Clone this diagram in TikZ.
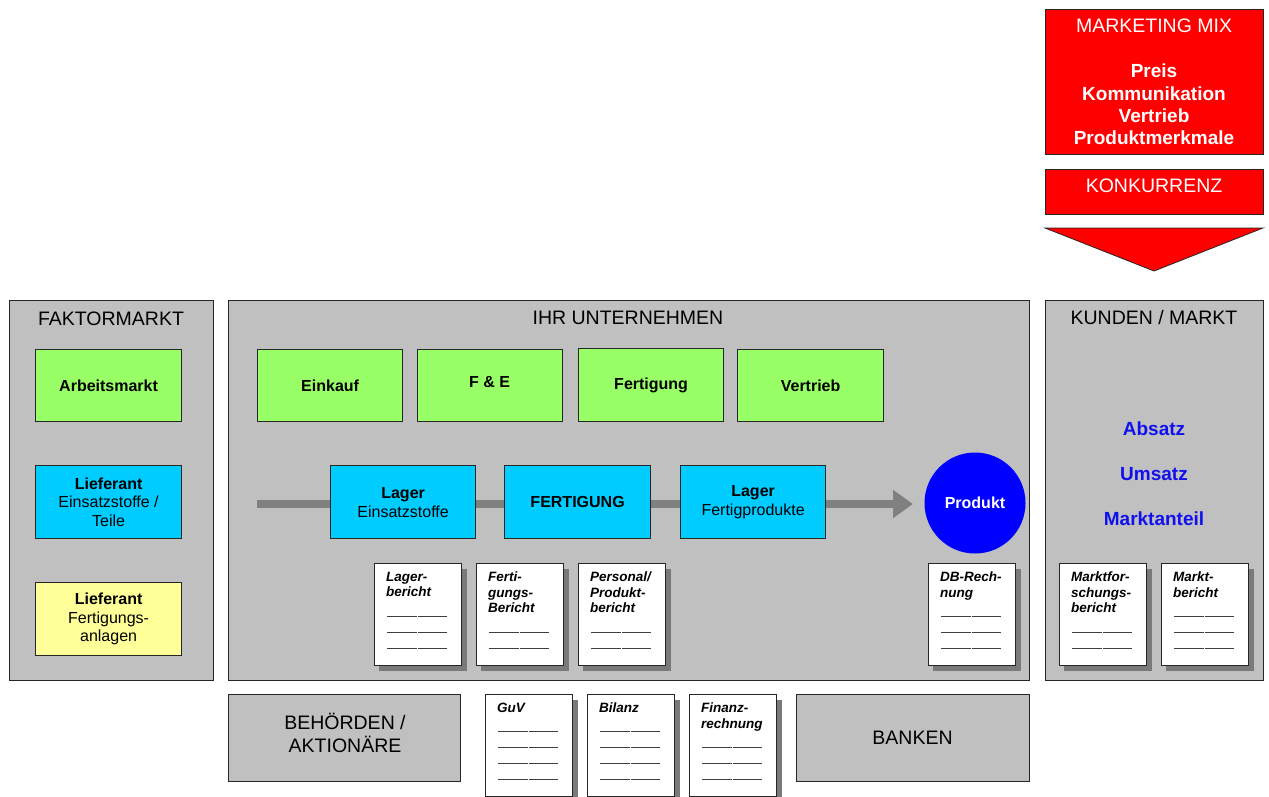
\documentclass[tikz,border=0pt]{standalone}
\usepackage{fontspec}
\setmainfont{Liberation Sans}
\usetikzlibrary{arrows.meta}
\definecolor{boxgray}{HTML}{C0C0C0}
\definecolor{linecol}{HTML}{262626}
\definecolor{gfill}{HTML}{99FF66}
\definecolor{cfill}{HTML}{00CCFF}
\definecolor{yfill}{HTML}{FFFF99}
\definecolor{rfill}{HTML}{FF0000}
\definecolor{bfill}{HTML}{0000FF}
\definecolor{kpiblue}{HTML}{1010F0}
\definecolor{flowgray}{HTML}{808080}
\definecolor{shadowgray}{HTML}{7A7A7A}
\newcommand\fsz[2]{\fontsize{#1}{#2}\selectfont}
\tikzset{
  basebox/.style={draw=linecol, line width=1.2pt, inner sep=0pt, align=center},
  areabox/.style={basebox, fill=boxgray},
  gbox/.style={basebox, fill=gfill, font=\fsz{16}{19}\bfseries},
  cbox/.style={basebox, fill=cfill, font=\fsz{16}{19}},
  ybox/.style={basebox, fill=yfill, font=\fsz{16}{19}},
  rbox/.style={basebox, fill=rfill, text=white},
  titletext/.style={font=\fsz{19.5}{23}, inner sep=0pt},
  kpitext/.style={font=\fsz{19}{23}\bfseries, text=kpiblue, inner sep=0pt},
  docrect/.style={draw=linecol, line width=1.1pt, fill=white, inner sep=0pt, anchor=north west,
    minimum width=87, minimum height=102},
  doctext/.style={font=\fsz{13.5}{15.5}\bfseries\itshape, inner sep=0pt, align=left, anchor=north west},
  docline/.style={draw=black!75, line width=1pt},
  flowarrow/.style={draw=flowgray, line width=8pt, -{Triangle[length=20pt,width=27pt]}},
}
% rectangle node by corners
\newcommand\rbox[7]{\node[#2, anchor=north west, minimum width=#5-#3, minimum height=#6-#4] (#1) at (#3,#4) {#7};}
% document symbol
\newcommand\docbox[5]{%
  \fill[shadowgray] (#2+5,#3+6) rectangle (#2+93,#3+108);
  \node[docrect] (#1) at (#2,#3) {};
  \node[doctext] (#1-t) at (#2+12,#3+9) {#4};
  \foreach \k in {#5,...,4}{%
    \draw[docline] (#2+13,#3+21+16*\k) -- (#2+43,#3+21+16*\k);
    \draw[docline] (#2+44,#3+21+16*\k) -- (#2+73,#3+21+16*\k);
  }%
}
\begin{document}
\begin{tikzpicture}[x=1pt,y=-1pt]
\useasboundingbox (0,0) rectangle (1269,796);
\fill[white] (0,0) rectangle (1269,796);

% Marketing mix column
\rbox{mix}{rbox}{1045}{9}{1263}{154}{}
\node[font=\fsz{19.5}{22}, text=white, inner sep=0pt] (mixt) at (1154,26) {MARKETING MIX};
\node[font=\fsz{19}{22.3}\bfseries, text=white, inner sep=0pt, align=center] (mixl) at (1154,104.5)
  {Preis\\Kommunikation\\Vertrieb\\Produktmerkmale};
\rbox{konk}{rbox}{1045}{169}{1263}{214}{}
\node[font=\fsz{19.5}{22}, text=white, inner sep=0pt] (konkt) at (1154,186) {KONKURRENZ};
\draw[draw=linecol, line width=0.8pt, fill=rfill] (1045,228) -- (1263,228) -- (1154,271) -- cycle;

% Large areas
\rbox{faktor}{areabox}{9}{300}{213}{680}{}
\node[titletext] (faktort) at (111,319) {FAKTORMARKT};
\rbox{firm}{areabox}{228}{300}{1029}{680}{}
\node[titletext] (firmt) at (628,318) {IHR UNTERNEHMEN};
\rbox{kunden}{areabox}{1045}{300}{1263}{680}{}
\node[titletext] (kundent) at (1154,318) {KUNDEN / MARKT};

% Faktormarkt boxes
\rbox{arbeit}{gbox}{35}{349}{181}{421}{Arbeitsmarkt}
\rbox{liefE}{cbox}{35}{465}{181}{538}{\textbf{Lieferant}\\[-0.5pt]Einsatzstoffe /\\[-0.5pt]Teile}
\rbox{liefF}{ybox}{35}{582}{181}{655}{\textbf{Lieferant}\\[-0.5pt]Fertigungs-\\[-0.5pt]anlagen}

% Functions
\rbox{einkauf}{gbox}{257}{349}{402}{421}{Einkauf}
\rbox{fue}{gbox}{417}{349}{562}{421}{}
\node[font=\fsz{16}{19}\bfseries, inner sep=0pt] (fuet) at (489.5,382) {F \& E};
\rbox{fert}{gbox}{578}{348}{723}{421}{Fertigung}
\rbox{vertrieb}{gbox}{737}{349}{883}{421}{Vertrieb}

% Flow
\coordinate (flowstart) at (257,504);
\coordinate (flowend) at (913,504);
\draw[flowarrow] (flowstart) -- (flowend);
\rbox{lagerE}{cbox}{330}{465}{475}{538}{\textbf{Lager}\\Einsatzstoffe}
\rbox{fertigung}{cbox}{504}{465}{650}{538}{\textbf{FERTIGUNG}}
\rbox{lagerF}{cbox}{680}{465}{825}{538}{\textbf{Lager}\\Fertigprodukte}
\node[circle, fill=bfill, minimum size=101, inner sep=0pt, text=white, font=\fsz{16}{19}\bfseries] (prod) at (975,503) {Produkt};

% Reports
\docbox{rLager}{374}{563}{Lager-\\bericht}{2}
\docbox{rFert}{476}{563}{Ferti-\\gungs-\\Bericht}{3}
\docbox{rPers}{578}{563}{Personal/\\Produkt-\\bericht}{3}
\docbox{rDB}{928}{563}{DB-Rech-\\nung}{2}
\docbox{rMF}{1059}{563}{Marktfor-\\schungs-\\bericht}{3}
\docbox{rMB}{1161}{563}{Markt-\\bericht}{2}

% KPIs
\node[kpitext] (absatz) at (1154,429) {Absatz};
\node[kpitext] (umsatz) at (1154,474) {Umsatz};
\node[kpitext] (anteil) at (1154,519) {Marktanteil};

% Bottom row
\rbox{behoerden}{areabox}{228}{694}{460}{781}{}
\node[titletext, align=center] (behoerdent) at (345,733) {BEHÖRDEN /\\AKTIONÄRE};
\docbox{rGuV}{485}{694}{GuV}{1}
\docbox{rBil}{587}{694}{Bilanz}{1}
\docbox{rFin}{689}{694}{Finanz-\\rechnung}{2}
\rbox{banken}{areabox}{796}{694}{1029}{781}{}
\node[titletext] (bankent) at (912.5,738) {BANKEN};
\end{tikzpicture}
\end{document}
